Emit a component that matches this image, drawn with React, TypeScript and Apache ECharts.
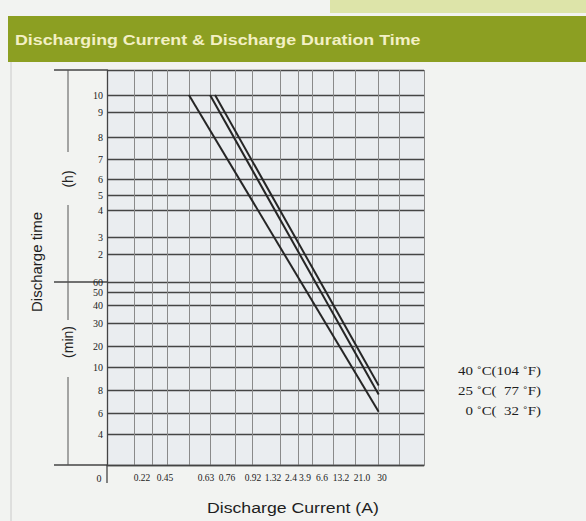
import React, { useEffect, useRef } from "react";
import * as echarts from "echarts";

// ---------- data ----------
const xTickLabels = ["0", "0.22", "0.45", "0.63", "0.76", "0.92", "1.32", "2.4", "3.9", "6.6", "13.2", "21.0", "30"];
const xTickValues = [0, 0.22, 0.45, 0.63, 0.76, 0.92, 1.32, 2.4, 3.9, 6.6, 13.2, 21.0, 30];
// discharge time ticks in minutes (bottom part minutes, upper part hours)
const yTickMinutes = [0, 4, 6, 8, 10, 20, 30, 40, 50, 60, 120, 180, 240, 300, 360, 420, 480, 540, 600];
const yTickLabels = ["0", "4", "6", "8", "10", "20", "30", "40", "50", "60", "2", "3", "4", "5", "6", "7", "8", "9", "10"];

const seriesNames = ["40 ˚C(104 ˚F)", "25 ˚C(  77 ˚F)", "0 ˚C(  32 ˚F)"];
const current40 = [0.686, 28.5];
const time40 = [600, 8.4];
const current25 = [0.655, 28.5];
const time25 = [600, 7.6];
const current0 = [0.555, 28.5];
const time0 = [600, 6.1];

// ---------- layout (axis position units of the hand-drawn scale) ----------
const GRID_LEFT = 107;
const GRID_TOP = 70;
const X_MAX = 317;
const Y_MAX = 395;
const X_LABEL_POS = [0, 35, 58, 99, 120, 146, 166, 184, 198, 215, 234, 255, 275];
const X_GRID_POS = [27, 45, 60, 82, 103, 128, 145, 173, 191, 205, 226, 248, 271, 292, 317];
const Y_TICK_POS = [0, 31, 52, 75, 98, 119, 142, 160, 173, 183, 211, 228, 255, 270, 286, 306, 328, 353, 370];

function interp(v: number, from: number[], to: number[]) {
  const n = from.length;
  for (let i = 0; i < n - 1; i++) {
    if (v <= from[i + 1]) {
      const t = (v - from[i]) / (from[i + 1] - from[i]);
      return to[i] + t * (to[i + 1] - to[i]);
    }
  }
  const t = (v - from[n - 2]) / (from[n - 1] - from[n - 2]);
  return to[n - 2] + t * (to[n - 1] - to[n - 2]);
}
const xScale = (a: number) => interp(a, xTickValues, X_LABEL_POS);
const yScale = (m: number) => interp(m, yTickMinutes, Y_TICK_POS);

function nearestIndex(v: number, arr: number[]) {
  let best = 0;
  for (let i = 1; i < arr.length; i++) if (Math.abs(arr[i] - v) < Math.abs(arr[best] - v)) best = i;
  return best;
}

const SERIF = "'Liberation Serif', 'DejaVu Serif', serif";
const SANS = "'Liberation Sans', Arial, sans-serif";

export default function App() {
  const ref = useRef<HTMLDivElement>(null);
  useEffect(() => {
    if (!ref.current) return;
    const chart = echarts.init(ref.current, undefined, { renderer: "svg" });
    const pairs = [
      [current40, time40],
      [current25, time25],
      [current0, time0],
    ];
    const series = pairs.map(([c, t], i) => ({
      name: seriesNames[i],
      type: "line",
      showSymbol: false,
      silent: true,
      lineStyle: { color: "#262626", width: 2 },
      data: c.map((cv, k) => [xScale(cv), yScale(t[k])]),
    }));

    const option: any = {
      animation: false,
      backgroundColor: "#f2f3f1",
      grid: {
        left: GRID_LEFT,
        top: GRID_TOP,
        width: X_MAX,
        height: Y_MAX,
        show: true,
        backgroundColor: "#eaedf0",
        borderWidth: 0,
      },
      xAxis: {
        type: "value",
        min: 0,
        max: X_MAX,
        axisLine: { show: true, lineStyle: { color: "#444", width: 1.3 } },
        axisTick: { show: false, customValues: X_GRID_POS },
        splitLine: { show: true, lineStyle: { color: "#8a8a8a", width: 1 } },
        axisLabel: {
          customValues: X_LABEL_POS,
          hideOverlap: false,
          margin: 8,
          color: "#222",
          fontFamily: SERIF,
          fontSize: 9.5,
          formatter: (v: number) => {
            const i = nearestIndex(v, X_LABEL_POS);
            return i === 0 ? "{z|" + xTickLabels[0] + "}" : xTickLabels[i];
          },
          rich: {
            z: { padding: [0, 16, 0, 0], fontFamily: SERIF, fontSize: 10, color: "#222" },
          },
        },
      },
      yAxis: {
        type: "value",
        min: 0,
        max: Y_MAX,
        axisLine: { show: true, lineStyle: { color: "#444", width: 1.3 } },
        axisTick: { show: false, customValues: [...Y_TICK_POS, Y_MAX] },
        splitLine: { show: true, lineStyle: { color: "#454545", width: 1.4 } },
        axisLabel: {
          customValues: Y_TICK_POS.slice(1),
          margin: 4,
          color: "#222",
          fontFamily: SERIF,
          fontSize: 10,
          formatter: (v: number) => yTickLabels[nearestIndex(v, Y_TICK_POS)],
        },
      },
      series,
    };
    chart.setOption(option);

    const toPx = (u: number[]) => chart.convertToPixel({ gridIndex: 0 } as any, u) as number[];
    const pTop = toPx([0, Y_MAX]);
    const p60 = toPx([0, yScale(60)]);
    const p0 = toPx([0, 0]);

    const lineStyle = { stroke: "#444", lineWidth: 1.3 };

    chart.setOption({
      graphic: [
        { type: "rect", shape: { x: 330, y: 0, width: 256, height: 13 }, style: { fill: "#dde4a9" }, silent: true },
        { type: "rect", shape: { x: 8, y: 16, width: 578, height: 46 }, style: { fill: "#8c9f22" }, silent: true },
        {
          type: "text",
          x: 15,
          y: 40,
          scaleX: 1.15,
          style: {
            text: "Discharging Current & Discharge Duration Time",
            fill: "#f3f0c4",
            fontFamily: SANS,
            fontWeight: "bold",
            fontSize: 15.5,
            verticalAlign: "middle",
          },
        },
        { type: "line", shape: { x1: 11, y1: 62, x2: 11, y2: 521 }, style: { stroke: "#cacaca", lineWidth: 1 } },
        // axis-area extension lines
        { type: "line", shape: { x1: 54, y1: pTop[1], x2: pTop[0], y2: pTop[1] }, style: lineStyle },
        { type: "line", shape: { x1: 54, y1: p60[1], x2: p60[0], y2: p60[1] }, style: lineStyle },
        { type: "line", shape: { x1: 54, y1: p0[1], x2: p0[0], y2: p0[1] }, style: lineStyle },
        { type: "line", shape: { x1: p0[0], y1: p0[1], x2: p0[0], y2: p0[1] + 18 }, style: lineStyle },
        // unit brackets
        { type: "line", shape: { x1: 68, y1: pTop[1], x2: 68, y2: 152 }, style: { stroke: "#555", lineWidth: 1 } },
        { type: "line", shape: { x1: 68, y1: 205, x2: 68, y2: 320 }, style: { stroke: "#555", lineWidth: 1 } },
        { type: "line", shape: { x1: 68, y1: 377, x2: 68, y2: p0[1] }, style: { stroke: "#555", lineWidth: 1 } },
        {
          type: "text",
          x: 68,
          y: 179,
          rotation: Math.PI / 2,
          style: { text: "(h)", fill: "#222", fontFamily: SANS, fontSize: 14, align: "center", verticalAlign: "middle" },
        },
        {
          type: "text",
          x: 68,
          y: 342,
          rotation: Math.PI / 2,
          style: { text: "(min)", fill: "#222", fontFamily: SANS, fontSize: 14, align: "center", verticalAlign: "middle" },
        },
        {
          type: "text",
          x: 36,
          y: 262,
          rotation: Math.PI / 2,
          style: { text: "Discharge time", fill: "#1e1e1e", fontFamily: SANS, fontSize: 15, align: "center", verticalAlign: "middle" },
        },
        {
          type: "text",
          x: 207,
          y: 508,
          scaleX: 1.22,
          style: { text: "Discharge Current (A)", fill: "#1e1e1e", fontFamily: SANS, fontSize: 14.5, verticalAlign: "middle" },
        },
        ...seriesNames.map((n, i) => ({
          type: "text",
          x: 541,
          y: [371, 391, 411][i],
          scaleX: 1.3,
          style: { text: n, fill: "#1e1e1e", fontFamily: SERIF, fontSize: 11.5, align: "right", verticalAlign: "middle" },
        })),
      ],
    });

    return () => chart.dispose();
  }, []);
  return <div ref={ref} style={{ position: "fixed", left: 0, top: 0, width: 586, height: 521 }} />;
}
